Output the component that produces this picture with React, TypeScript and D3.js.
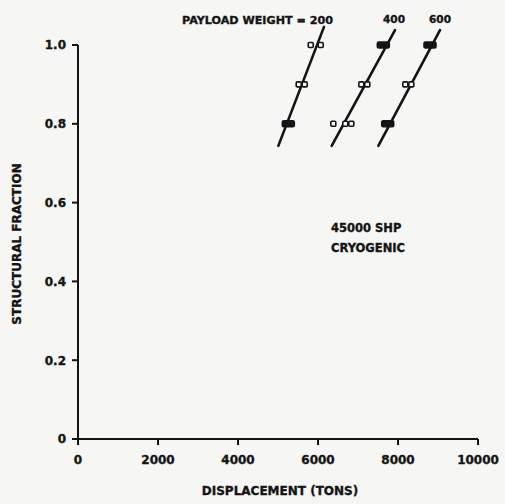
import React from "react";
import * as d3 from "d3";

// ---- data ----
const xTicks = [0, 2000, 4000, 6000, 8000, 10000];
const yTicks = [0, 0.2, 0.4, 0.6, 0.8, 1.0];
const yTickLabels = ["0", "0.2", "0.4", "0.6", "0.8", "1.0"];

const payloads = [200, 400, 600];
const lineStartDisp = [5008, 6342, 7508];
const lineStartFrac = [0.744, 0.744, 0.744];
const lineEndDisp = [6150, 7925, 9050];
const lineEndFrac = [1.046, 1.038, 1.038];

// markers: displacement, structural fraction, kind
const markerDisp = [5258, 5593, 5818, 6068, 6383, 6758, 7158, 7633, 7743, 8258, 8800];
const markerFrac = [0.8, 0.9, 1.0, 1.0, 0.8, 0.8, 0.9, 1.0, 0.8, 0.9, 1.0];
const markerKind = ["filled", "double", "single", "single", "single", "double", "double", "filled", "filled", "double", "filled"];

const W = 505;
const H = 504;
const INK = "#141414";
const BG = "#f6f6f4";
const FONT = "'DejaVu Sans', sans-serif";

export default function App() {
  const x = d3.scaleLinear().domain([0, 10000]).range([78, 478]);
  const y = d3.scaleLinear().domain([0, 1]).range([439, 45]);
  const line = d3.line<[number, number]>().x((d) => x(d[0])).y((d) => y(d[1]));

  return (
    <svg width={W} height={H} style={{ position: "absolute", left: 0, top: 0, background: BG }}>
      <rect width={W} height={H} fill={BG} />
      {/* axes */}
      <g stroke={INK} strokeWidth={2} fill="none">
        <line x1={x(0)} x2={x(0)} y1={y(1)} y2={y(0)} />
        <line x1={x(0)} x2={x(10000)} y1={y(0)} y2={y(0)} />
        {yTicks.map((t) => (
          <line key={"yt" + t} x1={x(0) - 6} x2={x(0)} y1={y(t)} y2={y(t)} />
        ))}
        {xTicks.map((t) => (
          <line key={"xt" + t} x1={x(t)} x2={x(t)} y1={y(0)} y2={y(0) + 6} />
        ))}
      </g>
      <g fill={INK} stroke={INK} strokeWidth={0.35} fontFamily={FONT} fontWeight="bold" fontSize={12}>
        {yTicks.map((t, i) => (
          <text key={"yl" + t} x={x(0) - 12} y={y(t)} dy="0.36em" textAnchor="end">
            {yTickLabels[i]}
          </text>
        ))}
        {xTicks.map((t) => (
          <text key={"xl" + t} x={x(t)} y={464} textAnchor="middle">
            {t}
          </text>
        ))}
        <text x={280} y={495} textAnchor="middle" fontSize={12}>
          DISPLACEMENT (TONS)
        </text>
        <text transform={`translate(21,244) rotate(-90)`} textAnchor="middle" fontSize={12}>
          STRUCTURAL FRACTION
        </text>
        <text x={331} y={232} fontSize={11.5}>45000 SHP</text>
        <text x={331} y={252} fontSize={11.5}>CRYOGENIC</text>
        <text x={333} y={24} textAnchor="end" fontSize={11} textLength={151} lengthAdjust="spacingAndGlyphs">
          {"PAYLOAD WEIGHT = " + payloads[0]}
        </text>
        <text x={394} y={23} textAnchor="middle" fontSize={10.5}>{payloads[1]}</text>
        <text x={440} y={23} textAnchor="middle" fontSize={10.5}>{payloads[2]}</text>
      </g>
      {/* lines */}
      <g stroke={INK} strokeWidth={2.6} fill="none" strokeLinecap="round">
        {payloads.map((p, i) => (
          <path
            key={"ln" + p}
            d={line([
              [lineStartDisp[i], lineStartFrac[i]],
              [lineEndDisp[i], lineEndFrac[i]],
            ]) || ""}
          />
        ))}
      </g>
      {/* markers */}
      <g stroke={INK} strokeWidth={1.6}>
        {markerDisp.map((d, i) => {
          const cx = x(d);
          const cy = y(markerFrac[i]);
          const k = markerKind[i];
          if (k === "single") {
            return <rect key={"m" + i} x={cx - 2.5} y={cy - 2.5} width={5} height={5} fill={BG} rx={1} />;
          }
          if (k === "double") {
            return (
              <g key={"m" + i}>
                <rect x={cx - 5.5} y={cy - 2.5} width={5} height={5} fill={BG} rx={1} />
                <rect x={cx + 0.5} y={cy - 2.5} width={5} height={5} fill={BG} rx={1} />
              </g>
            );
          }
          return <rect key={"m" + i} x={cx - 6} y={cy - 3} width={12} height={6} fill={INK} rx={1.5} />;
        })}
      </g>
    </svg>
  );
}
